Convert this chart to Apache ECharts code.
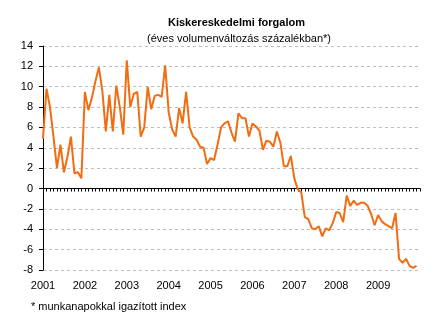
<!DOCTYPE html>
<html>
<head>
<meta charset="utf-8">
<script src="https://cdn.jsdelivr.net/npm/echarts@6/dist/echarts.min.js"></script>
<style>
html,body{margin:0;padding:0;background:#fff;}
#chart{width:444px;height:322px;}
</style>
</head>
<body>
<div id="chart"></div>
<script>
// Year labels (one per January)
var yearLabels = ['2001','2002','2003','2004','2005','2006','2007','2008','2009'];
// Monthly values, Jan 2001 - Dec 2009 (annual volume change, %)
var v2001 = [4.9, 9.8, 8.0, 5.1, 2.0, 4.3, 1.6, 3.1, 5.1, 1.5, 1.6, 1.0];
var v2002 = [9.5, 7.7, 8.9, 10.5, 11.9, 9.6, 5.6, 9.2, 5.6, 10.1, 8.0, 5.3];
var v2003 = [12.6, 8.0, 9.3, 9.5, 5.1, 6.0, 10.0, 7.8, 9.1, 9.2, 9.0, 12.1];
var v2004 = [7.5, 5.8, 5.1, 7.9, 6.4, 9.5, 6.0, 5.1, 4.8, 4.1, 4.0, 2.4];
var v2005 = [3.0, 2.8, 4.3, 6.0, 6.4, 6.6, 5.5, 4.6, 7.4, 6.9, 6.9, 5.1];
var v2006 = [6.4, 6.1, 5.7, 3.8, 4.7, 4.6, 4.1, 5.6, 4.5, 2.2, 2.2, 3.2];
var v2007 = [1.0, -0.1, -0.4, -2.8, -3.0, -3.9, -4.0, -3.7, -4.7, -3.9, -4.1, -3.4];
var v2008 = [-2.3, -2.4, -3.3, -0.7, -1.7, -1.2, -1.6, -1.4, -1.4, -1.7, -2.5, -3.6];
var v2009 = [-2.6, -3.2, -3.5, -3.7, -3.9, -2.4, -6.9, -7.3, -6.9, -7.6, -7.8, -7.6];

var values = [].concat(v2001, v2002, v2003, v2004, v2005, v2006, v2007, v2008, v2009);
var seriesData = values.map(function (v, i) { return [i, v]; });

var chart = echarts.init(document.getElementById('chart'), null, {renderer: 'canvas'});
var font = 'Liberation Sans, Arial, sans-serif';
chart.setOption({
  animation: false,
  backgroundColor: '#ffffff',
  textStyle: {fontFamily: font},
  title: [
    {text: 'Kiskereskedelmi forgalom', left: 163, top: 12,
     textStyle: {fontSize: 11, fontWeight: 'bold', color: '#000', fontFamily: font}},
    {text: '(éves volumenváltozás százalékban*)', left: 142, top: 28,
     textStyle: {fontSize: 11, fontWeight: 'normal', color: '#000', fontFamily: font}},
    {text: '* munkanapokkal igazított index', left: 26, top: 296,
     textStyle: {fontSize: 11, fontWeight: 'normal', color: '#000', fontFamily: font}}
  ],
  grid: {left: 43, right: 24, top: 46, bottom: 52, containLabel: false},
  xAxis: [
    {
      type: 'value', min: 0, max: 108, interval: 1,
      axisLine: {show: true, onZero: true, lineStyle: {color: '#000', width: 1}},
      axisTick: {show: true, length: 3, lineStyle: {color: '#000'}},
      axisLabel: {show: false},
      splitLine: {show: false}
    },
    {
      type: 'value', min: 0, max: 108, interval: 12, position: 'bottom',
      axisLine: {show: false, onZero: false},
      axisTick: {show: false},
      axisLabel: {
        show: true, margin: 10, fontSize: 11, color: '#000', fontFamily: font,
        formatter: function (v) { var k = v / 12; return k < yearLabels.length ? yearLabels[k] : ''; }
      },
      splitLine: {show: false}
    }
  ],
  yAxis: {
    type: 'value', min: -8, max: 14, interval: 2,
    axisLine: {show: true, lineStyle: {color: '#000', width: 1}},
    axisTick: {show: true, length: 4, lineStyle: {color: '#000'}},
    axisLabel: {margin: 10, fontSize: 11, color: '#000', fontFamily: font},
    splitLine: {show: true, lineStyle: {color: '#BDBDBD', type: [3, 3], width: 1}}
  },
  series: [{
    type: 'line',
    xAxisIndex: 0,
    data: seriesData,
    showSymbol: false,
    symbol: 'none',
    lineStyle: {color: '#F26C12', width: 2},
    z: 3
  }]
});
</script>
</body>
</html>
